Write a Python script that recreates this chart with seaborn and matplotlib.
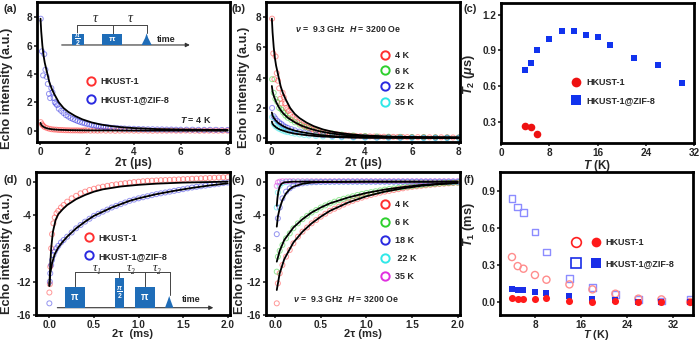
import numpy as np
import pandas as pd
import matplotlib
matplotlib.use("Agg")
import matplotlib.pyplot as plt
import seaborn as sns
from matplotlib.lines import Line2D
from matplotlib.patches import Rectangle, Polygon
from matplotlib.legend_handler import HandlerTuple

# ---------------- data ----------------
# (a) spin echo decay at 4 K, 2tau in us
a_zif_x = [0.03, 0.08, 0.13, 0.18, 0.23, 0.28, 0.33, 0.38, 0.43, 0.48, 0.53, 0.58, 0.63,
           0.68, 0.73, 0.8, 0.9, 1.0, 1.1, 1.2, 1.3, 1.4, 1.5, 1.6, 1.7, 1.8, 1.9, 2.0, 2.1,
           2.2, 2.3, 2.4, 2.5, 2.6, 2.7, 2.8, 2.9, 3.0, 3.15, 3.3, 3.45, 3.6, 3.8, 4.0, 4.2,
           4.4, 4.6, 4.8, 5.0, 5.2, 5.4, 5.6, 5.8, 6.0, 6.25, 6.5, 6.75, 7.0, 7.25, 7.5,
           7.75, 8.0]
a_zif_y = [7.9, 5.6, 3.9, 5.4, 4.3, 3.8, 3.3, 2.6, 2.3, 3.0, 2.7, 2.3, 2.0,
           1.9, 1.8, 1.55, 1.4, 1.25, 1.1, 1.0, 0.9, 0.82, 0.75, 0.68, 0.62, 0.57, 0.52, 0.48,
           0.44, 0.4, 0.37, 0.34, 0.31, 0.29, 0.27, 0.25, 0.23, 0.21, 0.2, 0.18, 0.16, 0.15,
           0.14, 0.13, 0.12, 0.11, 0.1, 0.1, 0.09, 0.09, 0.08, 0.08, 0.07, 0.07, 0.07, 0.07,
           0.06, 0.06, 0.06, 0.06, 0.05, 0.05]
a_hk_x = [0.03, 0.08, 0.13, 0.2, 0.3, 0.4, 0.5, 0.6, 0.7, 0.8, 0.9, 1.0, 1.1, 1.2, 1.3, 1.4,
          1.5, 1.6, 1.7, 1.8, 1.9, 2.0, 2.15, 2.3, 2.45, 2.6, 2.8, 3.0, 3.2, 3.4, 3.6, 3.8,
          4.0, 4.2, 4.4, 4.6, 4.8, 5.0, 5.2, 5.4, 5.6, 5.8, 6.0, 6.2, 6.4, 6.6, 6.8, 7.0,
          7.2, 7.4, 7.6, 7.8, 8.0]
a_hk_y = [0.6, 0.45, 0.35, 0.25, 0.18, 0.13, 0.1, 0.08, 0.07, 0.05, 0.05, 0.04, 0.03, 0.03,
          0.02, 0.02, 0.02, 0.02, 0.01, 0.01, 0.02, 0.02, 0.0, 0.01, 0.0, 0.01, 0.0, 0.0, -0.01,
          0.0, 0.0, 0.01, 0.0, 0.0, 0.01, 0.0, -0.01, 0.0, 0.0, 0.0, 0.01, 0.0, 0.0, 0.01,
          0.0, 0.0, -0.01, 0.0, 0.0, 0.0, 0.0, 0.0, 0.0]
a_zif_fit_x = [0.02, 0.05, 0.1, 0.15, 0.2, 0.3, 0.4, 0.5, 0.6, 0.8, 1.0, 1.2, 1.5, 1.8,
               2.2, 2.6, 3.0, 3.5, 4.0, 5.0, 6.0, 7.0, 8.0]
a_zif_fit_y = [7.9, 7.0, 6.0, 5.3, 4.8, 4.1, 3.4, 2.95, 2.6, 2.0, 1.6, 1.33, 1.03, 0.8,
               0.58, 0.43, 0.33, 0.24, 0.18, 0.11, 0.08, 0.06, 0.05]
a_hk_fit_x = [0.02, 0.05, 0.1, 0.2, 0.3, 0.5, 0.8, 1.2, 2.0, 4.0, 8.0]
a_hk_fit_y = [0.55, 0.42, 0.32, 0.22, 0.16, 0.1, 0.06, 0.04, 0.02, 0.01, 0.0]

# (b) temperature series, 2tau in us
b_x = [0.03, 0.1, 0.17, 0.25, 0.33, 0.42, 0.5, 0.6, 0.7, 0.85, 1.0, 1.2, 1.4, 1.6, 1.9,
       2.2, 2.6, 3.0, 3.5, 4.0, 4.5, 5.0, 5.5, 6.0, 6.5, 7.0, 7.5, 8.0]
b_6k_y = [3.9, 3.0, 2.6, 2.4, 2.0, 1.9, 1.7, 1.5, 1.35, 1.2, 1.05, 0.9, 0.75, 0.65, 0.52,
          0.42, 0.32, 0.24, 0.18, 0.14, 0.12, 0.1, 0.09, 0.08, 0.07, 0.06, 0.05, 0.05]
b_22k_y = [2.0, 1.45, 1.3, 1.15, 1.05, 0.95, 0.85, 0.75, 0.68, 0.6, 0.52, 0.44, 0.37, 0.31,
           0.25, 0.2, 0.15, 0.11, 0.08, 0.06, 0.05, 0.05, 0.04, 0.04, 0.03, 0.03, 0.03, 0.03]
b_35k_y = [1.4, 0.95, 0.8, 0.7, 0.62, 0.56, 0.5, 0.44, 0.4, 0.35, 0.3, 0.25, 0.21, 0.18,
           0.14, 0.11, 0.08, 0.06, 0.04, 0.03, 0.03, 0.02, 0.02, 0.02, 0.01, 0.01, 0.01, 0.01]
b_fit_x = [0.02, 0.05, 0.1, 0.2, 0.3, 0.4, 0.5, 0.7, 1.0, 1.3, 1.6, 2.0, 2.5, 3.0, 3.5, 4.0,
           5.0, 6.0, 8.0]
b_6k_fit = [3.45, 3.1, 2.8, 2.4, 2.1, 1.85, 1.65, 1.35, 1.05, 0.82, 0.65, 0.48, 0.33, 0.23,
            0.17, 0.13, 0.09, 0.07, 0.05]
b_22k_fit = [1.7, 1.5, 1.35, 1.15, 1.0, 0.9, 0.8, 0.65, 0.5, 0.4, 0.32, 0.22, 0.15, 0.1,
             0.08, 0.06, 0.05, 0.04, 0.03]
b_35k_fit = [1.1, 0.95, 0.85, 0.72, 0.62, 0.55, 0.5, 0.4, 0.3, 0.24, 0.19, 0.13, 0.09, 0.06,
             0.04, 0.03, 0.02, 0.015, 0.01]

# (c) T2 vs temperature
c_hk_t = [4, 5, 6]
c_hk_t2 = [0.266, 0.252, 0.194]
c_zif_t = [4, 5, 6, 8, 10, 12, 14, 16, 18, 22, 26, 30]
c_zif_t2 = [0.735, 0.796, 0.908, 0.998, 1.068, 1.065, 1.029, 1.012, 0.95, 0.838, 0.779, 0.628]

# (d) inversion recovery at 4 K, 2tau in ms
d_x = [0.0, 0.005, 0.01, 0.02, 0.03, 0.045, 0.06, 0.08, 0.1, 0.13, 0.16, 0.2, 0.25, 0.3,
       0.35, 0.4, 0.45, 0.5, 0.55, 0.6, 0.65, 0.7, 0.75, 0.8, 0.85, 0.9, 0.95, 1.0, 1.05,
       1.1, 1.15, 1.2, 1.25, 1.3, 1.35, 1.4, 1.45, 1.5, 1.55, 1.6, 1.65, 1.7, 1.75, 1.8,
       1.85, 1.9, 1.95, 2.0]
d_hk_y = [-13.3, -12.3, -10.2, -8.0, -6.3, -5.0, -4.3, -3.8, -3.5, -3.1, -2.8, -2.4, -2.0,
          -1.7, -1.4, -1.2, -1.0, -0.85, -0.7, -0.6, -0.5, -0.4, -0.32, -0.25, -0.18, -0.12,
          -0.05, 0.0, 0.05, 0.1, 0.12, 0.15, 0.18, 0.2, 0.22, 0.25, 0.27, 0.3, 0.32, 0.35,
          0.37, 0.4, 0.42, 0.45, 0.47, 0.5, 0.52, 0.55]
d_zif_y = [-14.6, -12.0, -11.0, -10.0, -9.4, -8.8, -8.4, -8.0, -7.7, -7.3, -7.0, -6.6, -6.1,
           -5.6, -5.2, -4.8, -4.45, -4.1, -3.85, -3.6, -3.35, -3.1, -2.9, -2.7, -2.5, -2.3,
           -2.15, -2.0, -1.87, -1.75, -1.62, -1.5, -1.4, -1.3, -1.2, -1.1, -1.0, -0.9, -0.8,
           -0.7, -0.62, -0.55, -0.47, -0.4, -0.32, -0.25, -0.17, -0.1]
d_hk_fit_x = [0.0, 0.01, 0.02, 0.04, 0.07, 0.1, 0.15, 0.2, 0.3, 0.4, 0.5, 0.6, 0.8, 1.0, 1.2, 1.5, 2.0]
d_hk_fit_y = [-12.5, -10.0, -8.0, -6.0, -4.6, -3.9, -3.3, -2.8, -2.1, -1.6, -1.2, -0.92, -0.58,
              -0.38, -0.24, -0.11, 0.0]
d_zif_fit_x = [0.0, 0.01, 0.03, 0.06, 0.1, 0.15, 0.2, 0.3, 0.4, 0.5, 0.6, 0.7, 0.8, 0.9, 1.0,
               1.2, 1.4, 1.6, 1.8, 2.0]
d_zif_fit_y = [-12.5, -11.0, -9.8, -8.7, -7.9, -7.2, -6.6, -5.6, -4.8, -4.1, -3.6, -3.1, -2.7,
               -2.3, -2.0, -1.5, -1.1, -0.75, -0.45, -0.2]

# (e) inversion recovery temperature series, 2tau in ms
e_x = [0.018, 0.03, 0.05, 0.08, 0.12, 0.16, 0.2, 0.25, 0.3, 0.35, 0.4, 0.45, 0.5, 0.55, 0.6,
       0.65, 0.7, 0.75, 0.8, 0.85, 0.9, 0.95, 1.0, 1.05, 1.1, 1.15, 1.2, 1.25, 1.3, 1.35,
       1.4, 1.45, 1.5, 1.55, 1.6, 1.65, 1.7, 1.75, 1.8, 1.85, 1.9, 1.95, 2.0]
e_4k_y = [-14.6, -12.2, -11.0, -10.0, -9.0, -8.2, -7.4, -6.6, -6.0, -5.5, -5.0, -4.6, -4.2,
          -3.85, -3.5, -3.25, -3.0, -2.75, -2.5, -2.3, -2.1, -1.92, -1.75, -1.6, -1.45, -1.32,
          -1.2, -1.1, -1.0, -0.9, -0.8, -0.7, -0.62, -0.56, -0.5, -0.44, -0.38, -0.33, -0.28,
          -0.24, -0.2, -0.16, -0.12]
e_6k_y = [-10.8, -9.0, -8.3, -7.6, -6.8, -6.2, -5.6, -5.0, -4.5, -4.1, -3.7, -3.4, -3.1,
          -2.85, -2.6, -2.4, -2.2, -2.05, -1.9, -1.75, -1.6, -1.47, -1.35, -1.25, -1.15, -1.05,
          -0.95, -0.87, -0.8, -0.72, -0.65, -0.58, -0.52, -0.46, -0.4, -0.35, -0.3, -0.26,
          -0.22, -0.18, -0.15, -0.12, -0.1]
e_18k_y = [-6.3, -4.4, -3.1, -2.0, -1.2, -0.8, -0.5, -0.3, -0.2, -0.12, -0.08, -0.06, -0.04,
           -0.03, -0.02, -0.01, 0.0, 0.0, 0.0, 0.0, 0.0, 0.0, 0.0, 0.0, 0.0, 0.0, 0.0, 0.0,
           0.0, 0.0, 0.0, 0.0, 0.0, 0.0, 0.0, 0.0, 0.0, 0.0, 0.0, 0.0, 0.0, 0.0, 0.0]
e_22k_y = [-3.1, -1.3, -0.5, -0.15, -0.05, 0.0, 0.0, 0.0, 0.0, 0.0, 0.0, 0.0, 0.0, 0.0, 0.0,
           0.0, 0.0, 0.0, 0.0, 0.0, 0.0, 0.0, 0.0, 0.0, 0.0, 0.0, 0.0, 0.0, 0.0, 0.0, 0.0,
           0.0, 0.0, 0.0, 0.0, 0.0, 0.0, 0.0, 0.0, 0.0, 0.0, 0.0, 0.0]
e_35k_y = [-0.5, -0.1, 0.0, 0.05, 0.05, 0.05, 0.05, 0.05, 0.05, 0.05, 0.05, 0.05, 0.05, 0.05,
           0.05, 0.05, 0.05, 0.05, 0.05, 0.05, 0.05, 0.05, 0.05, 0.05, 0.05, 0.05, 0.05, 0.05,
           0.05, 0.05, 0.05, 0.05, 0.05, 0.05, 0.05, 0.05, 0.05, 0.05, 0.05, 0.05, 0.05, 0.05,
           0.05]
e_fit_x = [0.018, 0.05, 0.1, 0.2, 0.3, 0.4, 0.5, 0.6, 0.8, 1.0, 1.2, 1.4, 1.6, 1.8, 2.0]
e_4k_fit = [-13.0, -11.0, -9.3, -7.3, -6.0, -5.0, -4.2, -3.5, -2.5, -1.75, -1.2, -0.8, -0.5, -0.3, -0.15]
e_6k_fit = [-9.6, -8.3, -7.0, -5.5, -4.5, -3.7, -3.1, -2.6, -1.9, -1.35, -0.95, -0.65, -0.4, -0.25, -0.15]
e_18k_fit_x = [0.018, 0.03, 0.05, 0.08, 0.12, 0.16, 0.2, 0.3, 0.4, 0.5, 1.0, 2.0]
e_18k_fit = [-5.4, -4.2, -3.2, -2.2, -1.4, -0.9, -0.6, -0.25, -0.1, -0.05, 0.0, 0.0]
e_22k_fit_x = [0.018, 0.025, 0.035, 0.05, 0.07, 0.1, 0.2, 1.0, 2.0]
e_22k_fit = [-2.9, -2.0, -1.2, -0.6, -0.25, -0.08, 0.0, 0.0, 0.0]

# (f) T1 vs temperature
f_t = [4, 5, 6, 8, 10, 14, 18, 22, 26, 30, 35]
f_hk_open = [0.363, 0.29, 0.269, 0.218, 0.18, 0.142, 0.102, 0.067, 0.027, 0.021, 0.0]
f_hk_fill = [0.035, 0.024, 0.027, 0.024, 0.03, 0.011, 0.003, 0.008, 0.0, 0.0, 0.0]
f_zif_open = [0.836, 0.766, 0.723, 0.567, 0.405, 0.19, 0.116, 0.06, 0.02, 0.01, 0.019]
f_zif_fill = [0.102, 0.097, 0.099, 0.083, 0.07, 0.048, 0.021, 0.013, 0.0, 0.0, 0.0]

# ---------------- style ----------------
sns.set_style("ticks")
plt.rcParams['font.family'] = ['Liberation Sans', 'DejaVu Sans']
plt.rcParams['font.weight'] = 'bold'
plt.rcParams['axes.labelweight'] = 'bold'
plt.rcParams['axes.unicode_minus'] = False
plt.rcParams['mathtext.fontset'] = 'custom'
plt.rcParams['mathtext.rm'] = 'Liberation Sans:bold'
plt.rcParams['mathtext.it'] = 'Liberation Sans:italic:bold'
plt.rcParams['mathtext.bf'] = 'Liberation Sans:bold'

RED, BLUE, GREEN, CYAN, MAG = '#ff3030', '#2a2ae0', '#2ed02e', '#30e8e8', '#e030e0'
PULSE = '#1f6db8'
LABEL_FS = 9.2
SERIF = ['Liberation Serif', 'DejaVu Serif']

fig = plt.figure(figsize=(7, 3.42), dpi=100)


def rect(l, t, r, b):
    return [l / 700, 1 - b / 342, (r - l) / 700, (b - t) / 342]


def style_ax(ax):
    for s in ax.spines.values():
        s.set_linewidth(2.0)
        s.set_color('black')
    ax.tick_params(direction='out', length=2.5, width=1.2, labelsize=7.2, pad=1)
    for lab in ax.get_xticklabels() + ax.get_yticklabels():
        lab.set_fontweight('bold')


def ylab(ax, text, x, y, size=LABEL_FS):
    ax.set_ylabel(text, fontsize=size)
    ax.yaxis.set_label_coords(x, y)


def dots(ax, x, y, color):
    sns.scatterplot(x=x, y=y, ax=ax, marker='o', s=13, color=color, linewidth=0.7, alpha=0.5,
                    legend=False)
    coll = ax.collections[-1]
    coll.set_facecolor('none')
    coll.set_edgecolor(color)


def fit(ax, x, y):
    sns.lineplot(x=x, y=y, ax=ax, color='black', lw=1.3, sort=False, estimator=None)


def oc(color):
    return Line2D([], [], marker='o', ls='', mfc='none', mec=color, ms=6, mew=1.4)


def leg(ax, handles, labels, x, y, spacing=1.0, **kw):
    ax.legend(handles, labels, loc='center left', bbox_to_anchor=(x, y), frameon=False,
              handlelength=1.0, handletextpad=0.6, borderpad=0, borderaxespad=0,
              labelspacing=spacing, prop={'size': 6.5, 'weight': 'bold'}, **kw)


def box(ax, x0, x1, y0, y1, label, size=6):
    ax.add_patch(Rectangle((x0, y0), x1 - x0, y1 - y0, transform=ax.transAxes,
                           color=PULSE, lw=0, zorder=5))
    ax.text((x0 + x1) / 2, (y0 + y1) / 2, label, transform=ax.transAxes, color='white',
            ha='center', va='center', fontsize=size, zorder=6)


def echo(ax, x0, x1, y0, y1):
    xm = (x0 + x1) / 2
    pts = [(x0, y0), (xm - 0.008, y0 + (y1 - y0) * 0.6), (xm, y1),
           (xm + 0.008, y0 + (y1 - y0) * 0.6), (x1, y0)]
    ax.add_patch(Polygon(pts, closed=True, transform=ax.transAxes, color=PULSE, lw=0, zorder=5))


def tline(ax, xs, ys, lw=0.7):
    ax.plot(xs, ys, transform=ax.transAxes, color='#444444', lw=lw, zorder=4)


def arrow(ax, x0, x1, y):
    ax.annotate('', xy=(x1, y), xytext=(x0, y), xycoords='axes fraction',
                arrowprops=dict(arrowstyle='-|>', color='#333333', lw=0.8,
                                mutation_scale=6, shrinkA=0, shrinkB=0))


# ---------------- (a) ----------------
ax = fig.add_axes(rect(37, 2, 230, 142))
dots(ax, a_hk_x, a_hk_y, RED)
dots(ax, a_zif_x, a_zif_y, BLUE)
fit(ax, a_hk_fit_x, a_hk_fit_y)
fit(ax, a_zif_fit_x, a_zif_fit_y)
ax.set_xlim(-0.13, 8.1)
ax.set_ylim(-0.8, 9.08)
ax.set_xticks([0, 2, 4, 6, 8])
ax.set_yticks([0, 2, 4, 6, 8])
ax.set_xlabel('2τ (μs)', fontsize=8.5, labelpad=0)
ylab(ax, 'Echo intensity (a.u.)', -0.124, 0.38)
style_ax(ax)
leg(ax, [oc(RED), oc(BLUE)], ['HKUST-1', 'HKUST-1@ZIF-8'], 0.255, 0.368)
ax.text(0.74, 0.16, '$T$ = 4 K', transform=ax.transAxes, fontsize=6.5, va='center')
# pulse sequence inset
arrow(ax, 0.128, 0.792, 0.693)
box(ax, 0.18, 0.241, 0.693, 0.769, r'$\frac{\pi}{2}$', 7)
box(ax, 0.335, 0.443, 0.693, 0.769, 'π')
echo(ax, 0.542, 0.594, 0.693, 0.776)
tline(ax, [0.209, 0.569], [0.836, 0.836])
for xx, yb in [(0.209, 0.769), (0.392, 0.769), (0.569, 0.78)]:
    tline(ax, [xx, xx], [0.836, yb])
for xx in [0.30, 0.482]:
    ax.text(xx, 0.885, 'τ', transform=ax.transAxes, fontsize=10, ha='center', va='center',
            family=SERIF, style='italic', weight='normal')
ax.text(0.623, 0.733, 'time', transform=ax.transAxes, fontsize=6.5, va='center')

# ---------------- (b) ----------------
ax = fig.add_axes(rect(266, 2, 460, 142))
dots(ax, a_zif_x, a_zif_y, RED)
dots(ax, b_x, b_6k_y, GREEN)
dots(ax, b_x, b_22k_y, BLUE)
dots(ax, b_x, b_35k_y, CYAN)
fit(ax, a_zif_fit_x, a_zif_fit_y)
fit(ax, b_fit_x, b_6k_fit)
fit(ax, b_fit_x, b_22k_fit)
fit(ax, b_fit_x, b_35k_fit)
ax.set_xlim(-0.23, 8.05)
ax.set_ylim(-0.25, 9.0)
ax.set_xticks([0, 2, 4, 6, 8])
ax.set_yticks([0, 2, 4, 6, 8])
ax.set_xlabel('2τ (μs)', fontsize=8.5, labelpad=0)
ylab(ax, 'Echo intensity (a.u.)', -0.085, 0.39)
style_ax(ax)
leg(ax, [oc(RED), oc(GREEN), oc(BLUE), oc(CYAN)], ['4 K', '6 K', '22 K', '35 K'],
    0.592, 0.45, spacing=0.75)
ax.text(0.15, 0.808, r'$\nu$ =  9.3 GHz  $H$ = 3200 Oe', transform=ax.transAxes,
        fontsize=6.3, va='center')

# ---------------- (c) ----------------
ax = fig.add_axes(rect(501, 3, 694, 143))
sns.scatterplot(x=c_hk_t, y=c_hk_t2, ax=ax, marker='o', s=30, color='#ee1111',
                linewidth=0, legend=False)
sns.scatterplot(x=c_zif_t, y=c_zif_t2, ax=ax, marker='s', s=24, color='#1133ee',
                linewidth=0, legend=False)
ax.set_xlim(-0.05, 32)
ax.set_ylim(0.12, 1.3)
ax.set_xticks([0, 8, 16, 24, 32])
ax.set_yticks([0.3, 0.6, 0.9, 1.2])
ax.set_yticklabels(['0.3', '0.6', '0.9', '1.2'])
ax.set_xlabel('$T$ (K)', fontsize=8.5, labelpad=0)
ylab(ax, '$T_2$ ($\\mu$s)', -0.124, 0.49)
style_ax(ax)
fc = Line2D([], [], marker='o', ls='', color='#ee1111', ms=7, mew=0)
fs = Line2D([], [], marker='s', ls='', color='#1133ee', ms=6.5, mew=0)
leg(ax, [fc, fs], ['HKUST-1', 'HKUST-1@ZIF-8'], 0.365, 0.368, spacing=1.0)

# ---------------- (d) ----------------
ax = fig.add_axes(rect(36, 172, 230, 315))
dots(ax, d_x, d_hk_y, RED)
dots(ax, d_x, d_zif_y, BLUE)
fit(ax, d_hk_fit_x, d_hk_fit_y)
fit(ax, d_zif_fit_x, d_zif_fit_y)
ax.set_xlim(-0.15, 2.026)
ax.set_ylim(-16, 1.16)
ax.set_xticks([0, 0.5, 1.0, 1.5, 2.0])
ax.set_xticklabels(['0.0', '0.5', '1.0', '1.5', '2.0'])
ax.set_yticks([0, -4, -8, -12, -16])
ax.set_xlabel('2τ  (ms)', fontsize=8, labelpad=-0.5)
ylab(ax, 'Echo intensity (a.u.)', -0.12, 0.43)
style_ax(ax)
leg(ax, [oc(RED), oc(BLUE)], ['HKUST-1', 'HKUST-1@ZIF-8'], 0.248, 0.475)
arrow(ax, 0.11, 0.914, 0.051)
box(ax, 0.149, 0.253, 0.051, 0.196, 'π', 7)
box(ax, 0.407, 0.454, 0.051, 0.261, r'$\frac{\pi}{2}$', 7)
box(ax, 0.51, 0.613, 0.051, 0.196, 'π', 7)
echo(ax, 0.665, 0.708, 0.051, 0.133)
tline(ax, [0.201, 0.691], [0.30, 0.30])
for xx, yb in [(0.201, 0.196), (0.43, 0.261), (0.562, 0.196), (0.691, 0.14)]:
    tline(ax, [xx, xx], [0.30, yb])
for xx, lab in [(0.313, 'τ₁'), (0.493, 'τ₂'), (0.622, 'τ₂')]:
    ax.text(xx, 0.327, lab, transform=ax.transAxes, fontsize=9, ha='center', va='center',
            family=SERIF, style='italic', weight='normal')
ax.text(0.75, 0.11, 'time', transform=ax.transAxes, fontsize=6.5, va='center')

# ---------------- (e) ----------------
ax = fig.add_axes(rect(266, 172, 460, 315))
dots(ax, e_x, e_4k_y, RED)
dots(ax, e_x, e_6k_y, GREEN)
dots(ax, e_x, e_18k_y, BLUE)
dots(ax, e_x, e_22k_y, CYAN)
dots(ax, e_x, e_35k_y, MAG)
fit(ax, e_fit_x, e_4k_fit)
fit(ax, e_fit_x, e_6k_fit)
fit(ax, e_18k_fit_x, e_18k_fit)
fit(ax, e_22k_fit_x, e_22k_fit)
ax.set_xlim(-0.1, 2.025)
ax.set_ylim(-16, 1.16)
ax.set_xticks([0, 0.5, 1.0, 1.5, 2.0])
ax.set_xticklabels(['0.0', '0.5', '1.0', '1.5', '2.0'])
ax.set_yticks([0, -4, -8, -12, -16])
ax.set_xlabel('2τ (ms)', fontsize=8, labelpad=-0.5)
ylab(ax, 'Echo intensity (a.u.)', -0.105, 0.434)
style_ax(ax)
leg(ax, [oc(RED), oc(GREEN), oc(BLUE), oc(CYAN), oc(MAG)],
    ['4 K', '6 K', '18 K', ' 22 K', '35 K'], 0.59, 0.52, spacing=1.0)
ax.text(0.14, 0.115, r'$\nu$ =  9.3 GHz  $H$ = 3200 Oe', transform=ax.transAxes,
        fontsize=6.3, va='center')

# ---------------- (f) ----------------
ax = fig.add_axes(rect(500, 172, 693, 315))
sns.scatterplot(x=f_t, y=f_zif_open, ax=ax, marker='s', s=22, color='#8c8cff',
                linewidth=1.0, legend=False)
ax.collections[-1].set_facecolor('none')
ax.collections[-1].set_edgecolor('#8c8cff')
sns.scatterplot(x=f_t, y=f_hk_open, ax=ax, marker='o', s=26, color='#ff8c8c',
                linewidth=1.0, legend=False)
ax.collections[-1].set_facecolor('none')
ax.collections[-1].set_edgecolor('#ff8c8c')
sns.scatterplot(x=f_t, y=f_zif_fill, ax=ax, marker='s', s=22, color='#1a2ee8',
                linewidth=0, legend=False)
sns.scatterplot(x=f_t, y=f_hk_fill, ax=ax, marker='o', s=26, color='#ff1a1a',
                linewidth=0, legend=False)
ax.set_xlim(1.92, 35.5)
ax.set_ylim(-0.105, 1.05)
ax.set_xticks([8, 16, 24, 32])
ax.set_yticks([0, 0.3, 0.6, 0.9])
ax.set_yticklabels(['0.0', '0.3', '0.6', '0.9'])
ax.set_xlabel('$T$ (K)', fontsize=7.8, labelpad=-1)
ylab(ax, '$T_1$ (ms)', -0.119, 0.63)
style_ax(ax)
h1 = (Line2D([], [], marker='o', ls='', mfc='none', mec='#ff2020', ms=7, mew=1.2),
      Line2D([], [], marker='o', ls='', color='#ff1a1a', ms=7, mew=0))
h2 = (Line2D([], [], marker='s', ls='', mfc='none', mec='#1a2ee8', ms=6.5, mew=1.2),
      Line2D([], [], marker='s', ls='', color='#1a2ee8', ms=6.5, mew=0))
ax.legend([h1, h2], ['HKUST-1', 'HKUST-1@ZIF-8'], loc='center left',
          bbox_to_anchor=(0.37, 0.433), frameon=False, handlelength=3.2, handletextpad=0.6,
          borderpad=0, borderaxespad=0, labelspacing=1.3,
          prop={'size': 6.5, 'weight': 'bold'},
          handler_map={tuple: HandlerTuple(ndivide=None, pad=1.2)})

# panel labels
for lab, x, y in [('(a)', 3, 9), ('(b)', 232, 9), ('(c)', 463, 9),
                  ('(d)', 3, 180), ('(e)', 232, 180), ('(f)', 463, 180)]:
    fig.text(x / 700, 1 - y / 342, lab, fontsize=8, weight='bold', va='center', ha='left')

fig.savefig('out.png', dpi=100)
